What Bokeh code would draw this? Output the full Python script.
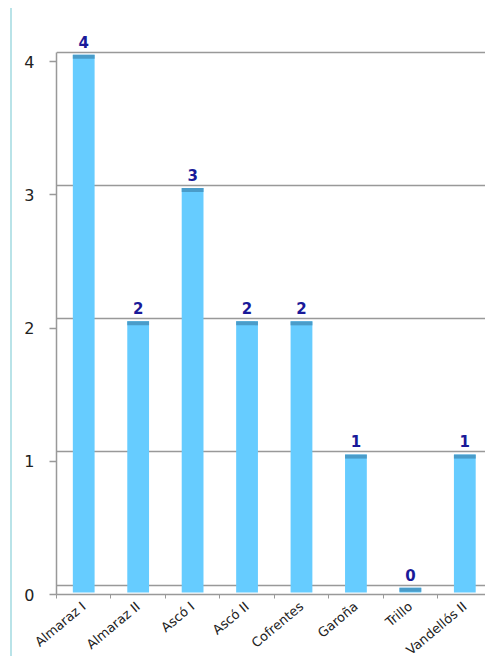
import math
from bokeh.plotting import figure
from bokeh.models import FixedTicker, ColumnDataSource, Range1d, Grid
from bokeh.layouts import column
from bokeh.embed import file_html
from bokeh.resources import INLINE
from bokeh.core.properties import value

# ---- data ----
CATEGORIES = ["Almaraz I", "Almaraz II", "Ascó I", "Ascó II", "Cofrentes",
              "Garoña", "Trillo", "Vandellós II"]
VALUES = [4, 2, 3, 2, 2, 1, 0, 1]
Y_TICKS = [0, 1, 2, 3, 4]

# ---- style constants ----
BAR_W = 0.4
DEPTH = 0.05        # pseudo-3D lift of bar tops
CAP = 0.03          # darker cap thickness
BASE = 0.015
GRID_DEPTH = 0.07   # gridlines drawn on the back wall
LABEL_GAP = 0.1
FONT = value("DejaVu Sans")
GREY = "#999999"

xs = [i + 0.5 for i in range(len(CATEGORIES))]
src = ColumnDataSource(dict(
    x=xs,
    v=VALUES,
    top=[v + DEPTH for v in VALUES],
    cap_bottom=[v + DEPTH - CAP for v in VALUES],
    label_y=[v + DEPTH + LABEL_GAP for v in VALUES],
    label=[str(v) for v in VALUES],
))

p = figure(frame_width=429, frame_height=586, x_range=Range1d(0, 7.88),
           y_range=Range1d(0, 4.398), output_backend="svg",
           toolbar_location=None, min_border_left=44, min_border_right=0,
           min_border_top=0, min_border_bottom=0)
p.outline_line_color = None
p.xgrid.visible = False
p.ygrid.visible = False

grid = Grid(dimension=1,
            ticker=FixedTicker(ticks=[t + GRID_DEPTH for t in Y_TICKS]),
            grid_line_color=GREY, grid_line_width=1.5)
p.add_layout(grid)

p.vbar(x="x", width=BAR_W, bottom=BASE, top="top", fill_color="#66ccff",
       line_color=None, source=src)
p.vbar(x="x", width=BAR_W, bottom="cap_bottom", top="top",
       fill_color="#4a9cc9", line_color=None, source=src)
p.text(x="x", y="label_y", text="label", text_align="center",
       text_baseline="alphabetic", text_font=FONT,
       text_font_style="bold", text_font_size="15px", text_color="#1a1a99",
       source=src)

ya = p.yaxis[0]
ya.ticker = FixedTicker(ticks=Y_TICKS)
ya.bounds = (0, 4 + GRID_DEPTH)
ya.major_tick_out = 7
ya.major_tick_in = 0
ya.minor_tick_out = 0
ya.minor_tick_in = 0
ya.axis_line_color = GREY
ya.axis_line_width = 1.5
ya.major_tick_line_color = GREY
ya.major_tick_line_width = 1.5
ya.major_label_text_font = "DejaVu Sans"
ya.major_label_text_font_size = "16px"
ya.major_label_text_color = "#222222"
ya.major_label_standoff = 15

xa = p.xaxis[0]
xa.ticker = FixedTicker(ticks=xs, minor_ticks=list(range(len(CATEGORIES) + 1)))
xa.major_label_overrides = {x: name for x, name in zip(xs, CATEGORIES)}
xa.major_label_orientation = math.radians(40)
xa.major_tick_out = 0
xa.major_tick_in = 0
xa.minor_tick_out = 4
xa.minor_tick_in = 0
xa.axis_line_color = GREY
xa.axis_line_width = 1.5
xa.minor_tick_line_color = GREY
xa.minor_tick_line_width = 1
xa.major_label_standoff = 6
xa.major_label_text_font = "DejaVu Sans"
xa.major_label_text_font_size = "13px"
xa.major_label_text_color = "#222222"

layout = column(p, styles={"border-left": "2px solid #b9e3e8",
                           "margin-left": "10px", "margin-top": "8px"})

open("out.html", "w").write(file_html(layout, INLINE))
